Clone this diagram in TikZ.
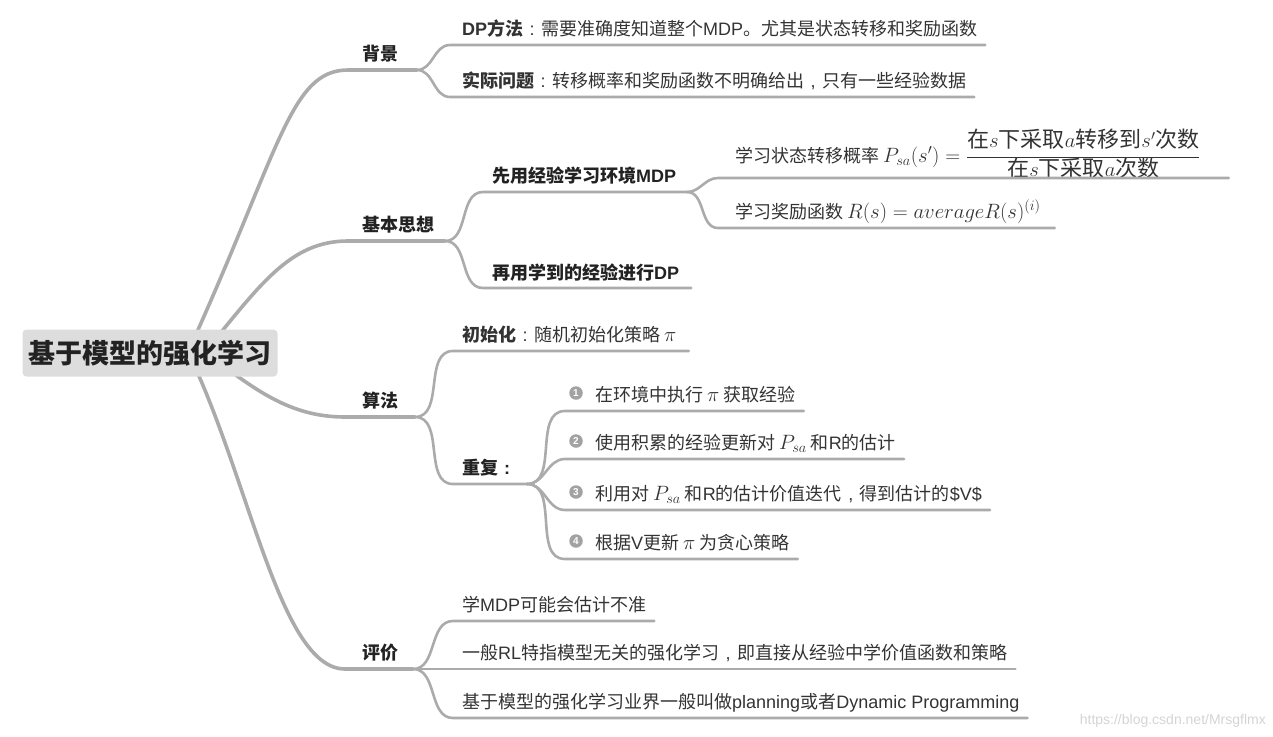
\documentclass[tikz,border=0pt]{standalone}
\usepackage{fontspec}
\setmainfont{Noto Sans CJK SC}
\newfontfamily\lat{Liberation Sans}
\newcommand\lt[1]{{\lat #1}}
\newcommand\cco{\makebox[1em][c]{\lat :}}
\newcommand\ccm{\makebox[1em][c]{\lat ,}}
\newcommand\mth[1]{{\fontsize{22}{24}\selectfont$#1$}}
\usetikzlibrary{calc,backgrounds}
\definecolor{lc}{HTML}{ABABAB}
\definecolor{tc}{HTML}{333333}
\definecolor{hc}{HTML}{222222}
\definecolor{rootfill}{HTML}{DDDDDD}
\definecolor{numc}{HTML}{A2A2A2}
\definecolor{wm}{HTML}{D4D4D4}
\begin{document}
\begin{tikzpicture}[x=1pt,y=-1pt,
  br/.style={draw=lc,line width=3.6pt,line cap=round},
  sub/.style={draw=lc,line width=2.6pt,line cap=round},
  lab/.style={anchor=base west,inner sep=0pt,text=tc,font=\fontsize{18}{22}\selectfont},
  hd/.style={anchor=base west,inner sep=0pt,text=hc,font=\fontsize{18}{22}\selectfont\bfseries},
  num/.style={circle,fill=numc,inner sep=0pt,minimum size=13.5pt,text=white,font=\lat\bfseries\fontsize{10}{10}\selectfont},
  rootbox/.style={fill=rootfill,rounded corners=4pt,minimum width=255pt,minimum height=47pt,inner sep=0pt,text=hc,font=\fontsize{27}{30}\selectfont\bfseries}
]
\useasboundingbox (0,0) rectangle (1273,736);

% root
\node[rootbox] (root) at (150,353) {基于模型的强化学习};
\coordinate (rA) at (188,352);
\coordinate (rB) at (205,352);

% level 1
\coordinate (bjS) at (348,70);  \coordinate (bjE) at (417,70);
\coordinate (jbS) at (348,241); \coordinate (jbE) at (445,241);
\coordinate (sfS) at (345,417); \coordinate (sfE) at (415,417);
\coordinate (pjS) at (345,669); \coordinate (pjE) at (413,669);

\begin{scope}[on background layer]
\draw[br] (rA) .. controls (280,150) and (290,70) .. (bjS) -- (bjE);
\draw[br] (rB) .. controls (260,285) and (290,241) .. (jbS) -- (jbE);
\draw[br] (rB) .. controls (255,390) and (290,417) .. (sfS) -- (sfE);
\draw[br] (rA) .. controls (250,480) and (280,669) .. (pjS) -- (pjE);
\end{scope}

\node[hd] (bj) at (362,60) {背景};
\node[hd] (jb) at (362,231) {基本思想};
\node[hd] (sf) at (362,407) {算法};
\node[hd] (pj) at (362,659) {评价};

% 背景 children
\node[lab] (dp) at (462,35) {\textbf{\lt{DP}方法}\cco 需要准确度知道整个\lt{MDP}。尤其是状态转移和奖励函数};
\coordinate (dpS) at (450,45);
\draw[sub] (bjE) to[out=0,in=180] (dpS) -- ($(dpS -| dp.east)+(8,0)$);
\node[lab] (sj) at (462,87) {\textbf{实际问题}\cco 转移概率和奖励函数不明确给出\ccm 只有一些经验数据};
\coordinate (sjS) at (450,97);
\draw[sub] (bjE) to[out=0,in=180] (sjS) -- ($(sjS -| sj.east)+(8,0)$);

% 基本思想 children
\node[hd] (xy) at (492,182) {先用经验学习环境\lt{MDP}};
\coordinate (xyS) at (483,192); \coordinate (xyE) at (687,192);
\draw[sub] (jbE) to[out=0,in=180] (xyS) -- (xyE);
\node[hd] (zy) at (492,279) {再用学到的经验进行\lt{DP}};
\coordinate (zyS) at (483,288);
\draw[sub] (jbE) to[out=0,in=180] (zyS) -- ($(zyS -| zy.east)+(12,0)$);

% 先用经验 children
\node[lab] (gl) at (735,162) {学习状态转移概率 \mth{P_{sa}(s')=\displaystyle\frac{\mbox{在}s\mbox{下采取}a\mbox{转移到}s'\mbox{次数}}{\mbox{在}s\mbox{下采取}a\mbox{次数}}}};
\coordinate (glS) at (718,178);
\draw[sub] (xyE) to[out=0,in=180] (glS) -- ($(glS -| gl.east)+(28,0)$);
\node[lab] (jl) at (735,218) {学习奖励函数 \mth{R(s)=averageR(s)^{(i)}}};
\coordinate (jlS) at (718,228);
\draw[sub] (xyE) to[out=0,in=180] (jlS) -- ($(jlS -| jl.east)+(14,0)$);

% 算法 children
\node[lab] (csh) at (462,341) {\textbf{初始化}\cco 随机初始化策略 \mth{\pi}};
\coordinate (cshS) at (453,351);
\draw[sub] (sfE) to[out=0,in=180] (cshS) -- ($(cshS -| csh.east)+(12,0)$);
\node[hd] (cf) at (462,474) {重复\cco};
\coordinate (cfS) at (453,484); \coordinate (cfE) at (527,484);
\draw[sub] (sfE) to[out=0,in=180] (cfS) -- (cfE);

% 重复 children
\node[num] (n1) at (576,393) {1};
\node[lab] (r1) at (595,401) {在环境中执行 \mth{\pi} 获取经验};
\coordinate (r1S) at (565,411);
\draw[sub] (cfE) to[out=0,in=180] (r1S) -- ($(r1S -| r1.east)+(8,0)$);
\node[num] (n2) at (576,441) {2};
\node[lab] (r2) at (595,449) {使用积累的经验更新对 \mth{P_{sa}} 和\lt{R}的估计};
\coordinate (r2S) at (565,459);
\draw[sub] (cfE) to[out=0,in=180] (r2S) -- ($(r2S -| r2.east)+(8,0)$);
\node[num] (n3) at (576,492) {3};
\node[lab] (r3) at (595,500) {利用对 \mth{P_{sa}} 和\lt{R}的估计价值迭代\ccm 得到估计的\lt{\$V\$}};
\coordinate (r3S) at (565,510);
\draw[sub] (cfE) to[out=0,in=180] (r3S) -- ($(r3S -| r3.east)+(8,0)$);
\node[num] (n4) at (576,541) {4};
\node[lab] (r4) at (595,549) {根据\lt{V}更新 \mth{\pi} 为贪心策略};
\coordinate (r4S) at (565,559);
\draw[sub] (cfE) to[out=0,in=180] (r4S) -- ($(r4S -| r4.east)+(8,0)$);

% 评价 children
\node[lab] (p1) at (462,611) {学\lt{MDP}可能会估计不准};
\coordinate (p1S) at (453,621);
\draw[sub] (pjE) to[out=0,in=180] (p1S) -- ($(p1S -| p1.east)+(8,0)$);
\node[lab] (p2) at (462,659) {一般\lt{RL}特指模型无关的强化学习\ccm 即直接从经验中学价值函数和策略};
\coordinate (p2S) at (453,669);
\draw[sub] (pjE) -- (p2S) -- ($(p2S -| p2.east)+(8,0)$);
\node[lab] (p3) at (462,708) {基于模型的强化学习业界一般叫做\lt{planning}或者\lt{Dynamic Programming}};
\coordinate (p3S) at (453,718);
\draw[sub] (pjE) to[out=0,in=180] (p3S) -- ($(p3S -| p3.east)+(8,0)$);

% watermark
\node[anchor=base east,inner sep=0pt,text=wm,font=\lat\fontsize{14}{14}\selectfont] (wmk) at (1266,724) {https://blog.csdn.net/Mrsgflmx};
\end{tikzpicture}
\end{document}
